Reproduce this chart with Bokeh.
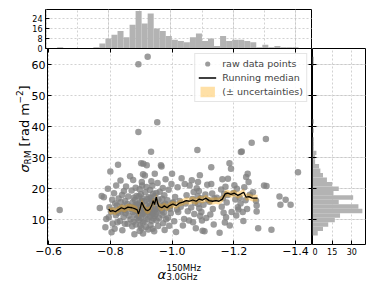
import numpy as np
from bokeh.plotting import figure
from bokeh.models import (Range1d, LinearAxis, FixedTicker, Label, Legend, LegendItem,
                          CustomJSTickFormatter, Grid)
from bokeh.layouts import column, row
from bokeh.embed import file_html
from bokeh.resources import INLINE

# ---------------- data ----------------
alpha_vals = [
    -0.636,
    -0.766,
    -0.772, -0.779, -0.784, -0.787,
    -0.792, -0.795, -0.797, -0.800, -0.802, -0.804, -0.806, -0.808,
    -0.810, -0.812, -0.814, -0.816, -0.818, -0.819, -0.821, -0.823, -0.825, -0.826, -0.827,
    -0.830, -0.831, -0.833, -0.834, -0.836, -0.838, -0.839, -0.841, -0.843, -0.844, -0.846, -0.847, -0.848, -0.849,
    -0.851, -0.853, -0.855, -0.856, -0.858, -0.860, -0.862, -0.864, -0.866,
    -0.869, -0.870, -0.871, -0.872, -0.873, -0.874, -0.875, -0.876, -0.877, -0.878, -0.879, -0.880, -0.881, -0.882, -0.883, -0.884, -0.885, -0.886, -0.887,
    -0.888, -0.889, -0.890, -0.891, -0.891, -0.892, -0.893, -0.893, -0.894, -0.895, -0.895, -0.896, -0.897, -0.897, -0.898,
    -0.899, -0.899, -0.900, -0.900, -0.901, -0.902, -0.902, -0.903, -0.903, -0.904, -0.904, -0.905, -0.905, -0.906, -0.906,
    -0.907, -0.908, -0.909, -0.910, -0.911, -0.912, -0.913, -0.914, -0.915, -0.916, -0.917, -0.918, -0.919, -0.920, -0.921, -0.921, -0.922, -0.923, -0.924, -0.925,
    -0.926, -0.927, -0.927, -0.928, -0.929, -0.929, -0.930, -0.931, -0.932, -0.932, -0.933, -0.934, -0.934, -0.935,
    -0.936, -0.936, -0.937, -0.938, -0.938, -0.939, -0.940, -0.940, -0.941, -0.942, -0.942, -0.943, -0.944, -0.944,
    -0.946, -0.947, -0.948, -0.949, -0.950, -0.951, -0.952, -0.953, -0.954, -0.955, -0.956, -0.957, -0.958, -0.960, -0.962, -0.964,
    -0.966, -0.967, -0.968, -0.969, -0.970, -0.971, -0.972, -0.974, -0.975, -0.976, -0.978, -0.979, -0.981, -0.983,
    -0.985, -0.987, -0.989, -0.991, -0.993, -0.994, -0.996, -0.998, -1.000, -1.002,
    -1.004, -1.007, -1.010, -1.013, -1.016, -1.018, -1.020,
    -1.025, -1.028, -1.031, -1.035, -1.039, -1.041,
    -1.044, -1.047, -1.051, -1.055, -1.057,
    -1.062, -1.064, -1.066, -1.068, -1.070, -1.072, -1.074, -1.077, -1.080,
    -1.082, -1.083, -1.084, -1.085, -1.087, -1.088, -1.090, -1.091, -1.093, -1.095, -1.097, -1.099,
    -1.102, -1.105, -1.108, -1.111, -1.114, -1.117,
    -1.121, -1.124, -1.127, -1.127, -1.130, -1.132, -1.135, -1.137,
    -1.145, -1.154,
    -1.159, -1.161, -1.163, -1.165, -1.167, -1.169, -1.171, -1.173, -1.175, -1.177,
    -1.180, -1.181, -1.186, -1.187, -1.191, -1.193,
    -1.199, -1.202, -1.205, -1.208, -1.210, -1.213, -1.215,
    -1.219, -1.222, -1.223, -1.226, -1.229, -1.231, -1.234,
    -1.238, -1.240, -1.243, -1.245, -1.248, -1.252,
    -1.258, -1.262, -1.272, -1.274, -1.274,
    -1.279,
    -1.298, -1.304, -1.306,
    -1.322,
    -1.348, -1.351,
    -1.368,
    -1.384,
    -1.408,
]
sigma_vals = [
    13.1,
    13.7,
    17.6, 17.2, 7.5, 10.2,
    19.9, 10.7, 14.0, 25.5, 12.5, 5.9, 16.4, 8.7,
    13.0, 18.5, 7.0, 15.2, 11.4, 21.0, 14.5, 9.1, 27.7, 12.2, 16.8,
    13.5, 9.5, 22.6, 15.6, 12.6, 17.9, 6.5, 14.1, 10.8, 19.2, 13.0, 8.6, 16.0, 12.0,
    20.7, 12.9, 15.0, 8.6, 17.4, 11.2, 14.2, 24.0, 10.0,
    19.4, 13.3, 7.8, 15.5, 12.4, 22.8, 9.3, 17.0, 13.8, 5.2, 11.5, 16.3, 14.6, 20.3, 8.4, 12.9, 17.6, 10.4, 14.9,
    13.2, 12.5, 14.8, 60.2, 38.3, 11.0, 9.8, 17.5, 13.6, 6.3, 19.8, 12.2, 15.6, 8.1, 13.9,
    10.6, 18.2, 28.2, 12.8, 7.2, 22.1, 16.1, 14.3, 21.0, 11.7, 16.8, 9.0, 13.0, 24.6, 5.5,
    28.0, 13.4, 12.1, 15.9, 9.4, 24.2, 18.8, 11.3, 14.7, 7.6, 20.5, 27.5, 13.0, 16.6, 62.6, 10.2, 12.7, 6.8, 17.2, 14.0,
    13.1, 12.3, 15.3, 10.9, 19.5, 14.4, 8.2, 17.0, 31.9, 12.6, 22.4, 9.6, 13.7, 16.1,
    11.6, 20.9, 7.0, 14.9, 12.0, 18.3, 10.3, 13.5, 15.7, 6.2, 12.9, 17.6, 11.1, 24.8,
    13.2, 15.8, 11.8, 18.6, 9.7, 14.2, 41.4, 21.8, 12.5, 7.9, 16.5, 13.6, 10.5, 19.0, 14.8, 27.5,
    27.1, 13.0, 16.7, 11.4, 20.2, 8.8, 14.6, 12.3, 17.8, 6.6, 15.1, 23.0, 10.1, 13.9,
    16.2, 10.6, 19.6, 8.0, 13.5, 14.4, 12.1, 21.5, 24.8, 15.3,
    15.6, 9.4, 17.3, 6.0, 13.2, 20.4, 12.4,
    16.0, 14.1, 23.3, 8.1, 10.2, 21.5,
    15.2, 17.8, 12.7, 9.7, 21.0,
    13.9, 22.7, 16.6, 9.1, 18.9, 11.8, 15.4, 7.2, 20.1,
    32.5, 17.5, 22.1, 15.0, 19.2, 13.6, 24.3, 11.1, 16.9, 12.4, 9.7, 6.4,
    14.8, 6.2, 18.1, 10.5, 21.2, 16.3,
    15.7, 11.6, 26.9, 21.5, 18.4, 13.4, 8.4, 16.8,
    17.0, 5.7,
    19.7, 14.1, 23.0, 16.9, 12.2, 18.3, 9.0, 20.6, 10.7, 15.5,
    17.9, 23.2, 28.2, 8.1, 26.4, 12.4,
    18.6, 21.1, 16.5, 11.3, 19.9, 14.0, 13.2,
    17.0, 15.2, 31.8, 32.0, 12.4, 9.5, 20.4,
    16.2, 23.7, 13.4, 24.8, 22.1, 18.0,
    34.8, 18.8, 16.1, 14.5, 12.6,
    7.2,
    21.0, 36.0, 20.8,
    6.7,
    17.4, 14.8,
    16.4,
    14.8,
    25.3,
]

# running median and its uncertainty
med_alpha = [-0.795, -0.800, -0.808, -0.816, -0.825, -0.836, -0.846, -0.857, -0.870, -0.881,
             -0.887, -0.891, -0.896, -0.902, -0.909, -0.915, -0.922, -0.928, -0.934, -0.939,
             -0.943, -0.949, -0.954, -0.958, -0.967, -0.975, -0.984, -0.992, -1.003, -1.014,
             -1.024, -1.035, -1.046, -1.056, -1.067, -1.078, -1.088, -1.099, -1.110, -1.120,
             -1.131, -1.142, -1.152, -1.163, -1.172, -1.180, -1.191, -1.202, -1.213, -1.223,
             -1.232, -1.240, -1.249, -1.260, -1.277]
med_sigma = [13.4, 12.6, 12.9, 12.5, 13.1, 13.8, 13.4, 14.0, 13.8, 13.4,
             13.1, 11.8, 13.3, 15.6, 14.0, 13.1, 12.9, 13.3, 14.5, 16.1,
             14.8, 17.2, 15.0, 14.2, 13.8, 14.4, 13.8, 14.5, 15.0, 14.5,
             15.3, 15.6, 16.1, 15.9, 16.3, 15.9, 16.6, 16.3, 16.9, 16.1,
             15.9, 16.1, 15.9, 16.6, 18.3, 18.5, 18.1, 18.5, 17.8, 18.3,
             18.8, 17.2, 17.4, 16.9, 16.9]
med_err = [1.1] * len(med_alpha)

# marginal histograms (counts per bin)
alpha_hist_min, alpha_hist_max = -0.634, -1.410
top_counts = [1, 0, 0, 0, 0, 0, 1, 4, 8, 11, 14, 9, 19, 30, 20, 28, 16, 14, 10, 7,
              6, 5, 9, 12, 6, 8, 2, 10, 6, 7, 7, 6, 5, 1, 3, 1, 2, 1, 1, 1]
sigma_hist_min, sigma_hist_max = 4.8, 62.6
right_counts = [4, 8, 12, 17, 21, 38, 35, 20, 31, 16, 20, 15, 11, 8, 6, 5, 2, 2, 3, 1,
                1, 1, 0, 1, 0, 1, 0, 0, 0, 0, 0, 0, 0, 0, 0, 0, 0, 0, 1, 1]

x_ticks = [-0.6, -0.8, -1.0, -1.2, -1.4]
x_ticks_top = [-0.6, -0.7, -0.8, -0.9, -1.0, -1.1, -1.2, -1.3, -1.4]
y_ticks = [10, 20, 30, 40, 50, 60]
top_y_ticks = [0, 8, 16, 24]
right_x_ticks = [0, 15, 30]

# ---------------- styling helpers ----------------
FONT = "DejaVu Sans"
GRID_COLOR = "#b8b8b8"
BAR_COLOR = "#b3b3b3"
minus_fmt = CustomJSTickFormatter(code="return tick.toFixed(1).replace('-', '\u2212')")
int_fmt = CustomJSTickFormatter(code="return tick.toFixed(0)")
blank_fmt = CustomJSTickFormatter(code="return ''")


def style_axis(ax, size="11px", standoff=2):
    ax.major_tick_in = 4
    ax.major_tick_out = 0
    ax.minor_tick_line_color = None
    ax.axis_line_color = None
    ax.major_tick_line_color = "black"
    ax.major_label_text_font = FONT
    ax.major_label_text_font_size = size
    ax.major_label_text_color = "black"
    ax.major_label_standoff = standoff


def blank_axis(ticks):
    ax = LinearAxis(ticker=FixedTicker(ticks=ticks), formatter=blank_fmt)
    ax.major_tick_in = 4
    ax.major_tick_out = 0
    ax.minor_tick_line_color = None
    ax.axis_line_color = None
    ax.major_label_text_font_size = "0px"
    ax.major_label_standoff = 0
    return ax


def style_fig(f, transparent=False):
    f.outline_line_color = "black"
    f.outline_line_width = 1
    f.background_fill_color = "white"
    f.border_fill_color = "white"
    if transparent:
        f.border_fill_alpha = 0


def style_grid(g):
    g.grid_line_color = GRID_COLOR
    g.grid_line_dash = "2 2"
    g.grid_line_width = 0.8
    g.grid_line_alpha = 0.8


def text_panel(w, h, **kw):
    f = figure(width=w, height=h, x_range=Range1d(0, 1), y_range=Range1d(0, 1),
               x_axis_location=None, y_axis_location=None, toolbar_location=None,
               output_backend="svg", min_border_left=0, min_border_right=0,
               min_border_top=0, min_border_bottom=0, **kw)
    f.outline_line_color = None
    f.background_fill_alpha = 0
    f.border_fill_alpha = 0
    f.xgrid.visible = False
    f.ygrid.visible = False
    return f


# ---------------- main scatter panel ----------------
p = figure(width=284, height=211,
           x_range=Range1d(-0.5965, -1.455), y_range=Range1d(1.92, 65.27),
           output_backend="svg", toolbar_location=None,
           min_border_left=17, min_border_right=0, min_border_top=0, min_border_bottom=15)
style_fig(p, transparent=True)
p.xaxis.ticker = FixedTicker(ticks=x_ticks)
p.xaxis.formatter = minus_fmt
p.yaxis.ticker = FixedTicker(ticks=y_ticks)
p.yaxis.formatter = int_fmt
style_axis(p.xaxis[0])
style_axis(p.yaxis[0])
p.xgrid.ticker = FixedTicker(ticks=x_ticks)
p.ygrid.ticker = FixedTicker(ticks=y_ticks)
style_grid(p.xgrid[0])
style_grid(p.ygrid[0])
p.add_layout(blank_axis(x_ticks), "above")
p.add_layout(blank_axis(y_ticks), "right")

lower = [m - e for m, e in zip(med_sigma, med_err)]
upper = [m + e for m, e in zip(med_sigma, med_err)]
sc = p.scatter(alpha_vals, sigma_vals, size=6.5, fill_color="#808080", fill_alpha=0.78,
               line_color=None)
band = p.varea(x=med_alpha, y1=lower, y2=upper, fill_color="#ffa500", fill_alpha=0.35)
ln = p.line(med_alpha, med_sigma, line_color="black", line_width=1.3)

legend = Legend(items=[LegendItem(label="raw data points", renderers=[sc]),
                       LegendItem(label="Running median", renderers=[ln]),
                       LegendItem(label="(\u00b1 uncertainties)", renderers=[band])],
                location="top_right", label_text_font=FONT, label_text_font_size="9.5px",
                label_height=13, glyph_height=13, glyph_width=18, spacing=1, padding=3,
                margin=5, label_standoff=6, border_line_color="#cccccc",
                background_fill_alpha=0.85)
p.add_layout(legend)

lab_kw = dict(x_units="screen", y_units="screen", text_font=FONT, text_color="black",
              text_baseline="alphabetic", text_align="left")
can_kw = dict(x_units="canvas", y_units="canvas", text_font=FONT, text_color="black",
              text_baseline="alphabetic", text_align="left")

# ---------------- y axis label panel ----------------
py = text_panel(33, 211, margin=(0, -5, 0, 0))
ang = np.pi / 2
py.add_layout(Label(x=24, y=72, text="\u03c3", angle=ang, text_font_size="13px",
                    text_font_style="italic", **lab_kw))
py.add_layout(Label(x=27, y=80, text="RM", angle=ang, text_font_size="9px", **lab_kw))
py.add_layout(Label(x=24, y=98, text="[rad m", angle=ang, text_font_size="13px", **lab_kw))
py.add_layout(Label(x=19, y=141, text="\u22122", angle=ang, text_font_size="9px", **lab_kw))
py.add_layout(Label(x=24, y=154, text="]", angle=ang, text_font_size="13px", **lab_kw))

# ---------------- x axis label panel ----------------
px = text_panel(372, 22)
px.add_layout(Label(x=157, y=15, text="\u03b1", text_font_size="13px",
                    text_font_style="italic", **can_kw))
px.add_layout(Label(x=166, y=8, text="150MHz", text_font_size="8.5px", **can_kw))
px.add_layout(Label(x=166, y=17.5, text="3.0GHz", text_font_size="8.5px", **can_kw))

# ---------------- top histogram ----------------
a_edges = np.linspace(alpha_hist_min, alpha_hist_max, len(top_counts) + 1)
pt = figure(width=312, height=54, x_range=p.x_range, y_range=Range1d(0, 31.2),
            output_backend="svg", toolbar_location=None, x_axis_location=None,
            min_border_left=45, min_border_right=0, min_border_top=9, min_border_bottom=6,
            margin=(0, 0, -6, 0))
style_fig(pt)
pt.yaxis.ticker = FixedTicker(ticks=top_y_ticks)
pt.yaxis.formatter = int_fmt
style_axis(pt.yaxis[0], size="8px", standoff=3)
pt.ygrid.ticker = FixedTicker(ticks=top_y_ticks)
style_grid(pt.ygrid[0])
gx = Grid(dimension=0, ticker=FixedTicker(ticks=x_ticks_top))
style_grid(gx)
pt.add_layout(gx)
pt.quad(left=a_edges[:-1], right=a_edges[1:], bottom=0, top=top_counts,
        fill_color=BAR_COLOR, line_color=None)

# ---------------- right histogram ----------------
s_edges = np.linspace(sigma_hist_min, sigma_hist_max, len(right_counts) + 1)
pr = figure(width=60, height=211, x_range=Range1d(0, 40.4), y_range=p.y_range,
            output_backend="svg", toolbar_location=None, y_axis_location=None,
            min_border_left=0, min_border_right=7, min_border_top=0, min_border_bottom=15)
style_fig(pr, transparent=True)
pr.xaxis.ticker = FixedTicker(ticks=right_x_ticks)
pr.xaxis.formatter = int_fmt
style_axis(pr.xaxis[0], size="8px", standoff=3)
pr.xgrid.ticker = FixedTicker(ticks=right_x_ticks)
style_grid(pr.xgrid[0])
gy = Grid(dimension=1, ticker=FixedTicker(ticks=y_ticks))
style_grid(gy)
pr.add_layout(gy)
pr.add_layout(blank_axis(y_ticks), "left")
pr.quad(left=0, right=right_counts, bottom=s_edges[:-1], top=s_edges[1:],
        fill_color=BAR_COLOR, line_color=None)

layout = column(pt, row(py, p, pr, spacing=0), px, spacing=0)
open("out.html", "w").write(file_html(layout, INLINE))
